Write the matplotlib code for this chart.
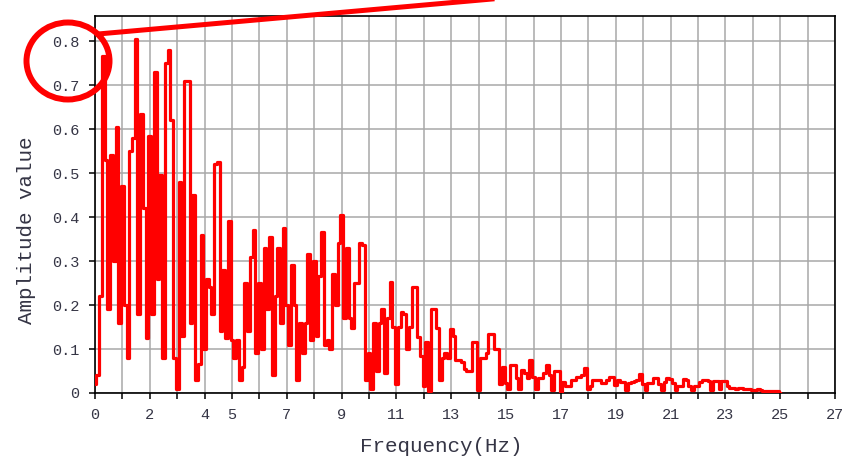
import matplotlib
matplotlib.use("Agg")
import matplotlib.pyplot as plt
from matplotlib.patches import Ellipse
from matplotlib.lines import Line2D
import numpy as np

# spectrum amplitudes, every 0.1 Hz
amp_00_05 = [0.02, 0.04, 0.22, 0.765, 0.53, 0.19, 0.54, 0.30, 0.605, 0.16,
             0.47, 0.20, 0.08, 0.55, 0.58, 0.805, 0.18, 0.635, 0.42, 0.125,
             0.585, 0.18, 0.73, 0.26, 0.495, 0.08, 0.75, 0.78, 0.62, 0.08,
             0.01, 0.48, 0.13, 0.71, 0.71, 0.16, 0.45, 0.03, 0.065, 0.36,
             0.10, 0.26, 0.24, 0.18, 0.52, 0.525, 0.14, 0.28, 0.125, 0.39]
amp_05_10 = [0.12, 0.08, 0.12, 0.03, 0.06, 0.25, 0.14, 0.31, 0.37, 0.09,
             0.25, 0.10, 0.33, 0.19, 0.355, 0.04, 0.22, 0.33, 0.16, 0.376,
             0.20, 0.11, 0.29, 0.20, 0.03, 0.16, 0.09, 0.16, 0.315, 0.12,
             0.30, 0.13, 0.265, 0.367, 0.11, 0.12, 0.10, 0.27, 0.20, 0.34,
             0.404, 0.17, 0.33, 0.17, 0.147, 0.25, 0.25, 0.34, 0.336, 0.03]
amp_10_15 = [0.09, 0.01, 0.16, 0.05, 0.16, 0.19, 0.045, 0.17, 0.253, 0.15,
             0.02, 0.15, 0.185, 0.18, 0.10, 0.15, 0.242, 0.24, 0.128, 0.085,
             0.015, 0.115, 0.005, 0.19, 0.19, 0.147, 0.03, 0.08, 0.09, 0.08,
             0.145, 0.13, 0.075, 0.075, 0.07, 0.055, 0.05, 0.05, 0.117, 0.117,
             0.007, 0.08, 0.08, 0.09, 0.135, 0.135, 0.10, 0.10, 0.02, 0.06]
amp_15_20 = [0.022, 0.01, 0.064, 0.064, 0.033, 0.01, 0.052, 0.045, 0.035, 0.075,
             0.037, 0.01, 0.033, 0.033, 0.045, 0.064, 0.04, 0.007, 0.05, 0.05,
             0.003, 0.025, 0.015, 0.015, 0.03, 0.03, 0.036, 0.036, 0.04, 0.057,
             0.01, 0.015, 0.03, 0.03, 0.03, 0.022, 0.022, 0.03, 0.037, 0.037,
             0.018, 0.03, 0.024, 0.024, 0.007, 0.022, 0.025, 0.028, 0.03, 0.043]
amp_20_25 = [0.02, 0.007, 0.022, 0.022, 0.033, 0.033, 0.02, 0.007, 0.025, 0.033,
             0.031, 0.022, 0.007, 0.016, 0.016, 0.032, 0.03, 0.015, 0.007, 0.015,
             0.015, 0.025, 0.03, 0.03, 0.027, 0.007, 0.027, 0.027, 0.01, 0.027,
             0.027, 0.015, 0.012, 0.012, 0.01, 0.012, 0.012, 0.008, 0.008, 0.008,
             0.006, 0.006, 0.01, 0.006, 0.004, 0.004, 0.004, 0.004, 0.004, 0.004,
             0.0]

df = 0.1
yticks = [0, 0.1, 0.2, 0.3, 0.4, 0.5, 0.6, 0.7, 0.8]
ytick_labels = ["0", "0.1", "0.2", "0.3", "0.4", "0.5", "0.6", "0.7", "0.8"]
xticks = list(range(0, 28))
xtick_shown = [0, 2, 4, 5, 7, 9, 11, 13, 15, 17, 19, 21, 23, 25, 27]

amp = np.array(amp_00_05 + amp_05_10 + amp_10_15 + amp_15_20 + amp_20_25)
freq = np.arange(len(amp)) * df

W, H = 858, 462
fig = plt.figure(figsize=(W / 100, H / 100), dpi=100)
ax = fig.add_axes([95 / W, 1 - 393 / H, 740 / W, 377 / H])

txt = "#353545"
font = "Liberation Mono"

ax.plot(freq, amp, color="red", lw=2.3, drawstyle="steps-mid", zorder=3)

ax.set_xlim(0, 27)
ax.set_ylim(0, 0.857)
ax.set_xticks(xticks)
ax.set_xticklabels([str(t) if t in xtick_shown else "" for t in xticks],
                   family=font, fontsize=11, color=txt)
ax.set_yticks(yticks)
ax.set_yticklabels(ytick_labels, family=font, fontsize=11, color=txt)
ax.tick_params(direction="out", length=4, width=1.1, color="black", pad=7)

ax.grid(True, color="#a8a8a8", lw=1.1)
ax.set_axisbelow(True)
for s in ax.spines.values():
    s.set_linewidth(1.2)
    s.set_color("black")

fig.text(441 / W, 1 - 447 / H, "Frequency(Hz)", family=font, fontsize=15,
         color=txt, ha="center", va="center")
fig.text(27 / W, 1 - 230 / H, "Amplitude value", family=font, fontsize=15,
         color=txt, ha="center", va="center", rotation=90)

# red highlight circle and pointer line
fig.patches.append(Ellipse((68 / W, 1 - 61 / H), 83 / W, 77 / H,
                           transform=fig.transFigure, fill=False,
                           edgecolor="red", lw=4.3, zorder=10))
fig.lines.append(Line2D([98 / W, 492 / W], [1 - 34 / H, 1 + 1 / H],
                        transform=fig.transFigure, color="red", lw=3.6,
                        zorder=10))

fig.savefig("out.png", dpi=100)
